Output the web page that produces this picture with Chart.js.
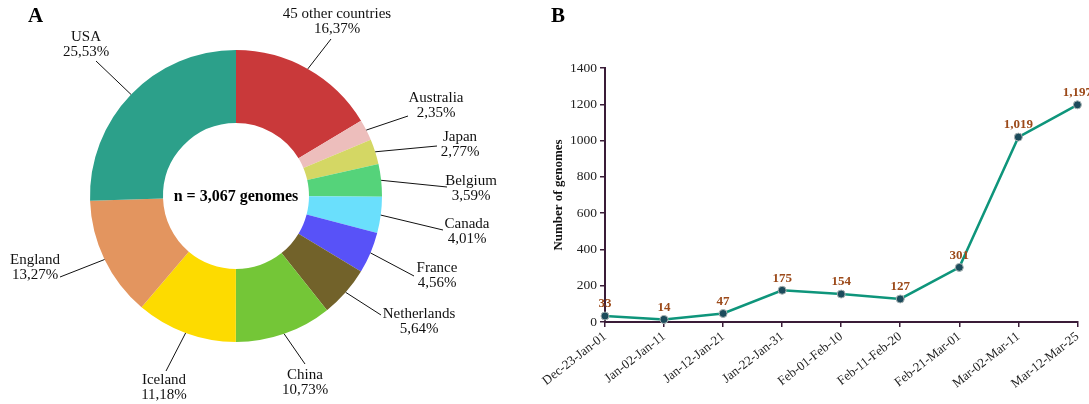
<!DOCTYPE html>
<html>
<head>
<meta charset="utf-8">
<script src="https://cdn.jsdelivr.net/npm/chart.js@4/dist/chart.umd.min.js"></script>
<style>
  body { margin: 0; background: #fff; font-family: "Liberation Serif", "Times New Roman", serif; }
  #wrap { position: relative; width: 1089px; height: 404px; overflow: hidden; }
  #boxA { position: absolute; left: 0; top: 0; width: 540px; height: 404px; }
  #boxB { position: absolute; left: 540px; top: 0; width: 549px; height: 404px; }
  .tag { position: absolute; font-weight: bold; font-size: 21px; line-height: 21px; color: #000; }
</style>
</head>
<body>
<div id="wrap">
  <div id="boxA"><canvas id="pie"></canvas></div>
  <div id="boxB"><canvas id="line"></canvas></div>
  <div class="tag" style="left:28px;top:5px">A</div>
  <div class="tag" style="left:551px;top:5px">B</div>
</div>
<script>
// panel A data
const countries = ['45 other countries', 'Australia', 'Japan', 'Belgium', 'Canada', 'France',
                   'Netherlands', 'China', 'Iceland', 'England', 'USA'];
const shares = [16.37, 2.35, 2.77, 3.59, 4.01, 4.56, 5.64, 10.73, 11.18, 13.27, 25.53];
const totalGenomes = '3,067';

// panel B data
const periods = ['Dec-23-Jan-01', 'Jan-02-Jan-11', 'Jan-12-Jan-21', 'Jan-22-Jan-31', 'Feb-01-Feb-10',
                 'Feb-11-Feb-20', 'Feb-21-Mar-01', 'Mar-02-Mar-11', 'Mar-12-Mar-25'];
const genomes = [33, 14, 47, 175, 154, 127, 301, 1019, 1197];
const yTicks = [0, 200, 400, 600, 800, 1000, 1200, 1400];

// styles
const sliceColors = ['#c9393a', '#edbebc', '#d4d764', '#55d37a', '#6adffc', '#5852f8',
                     '#72622a', '#74c637', '#fddb00', '#e3955f', '#2ca08a'];
// label placement relative to the doughnut centre: [text x, text y, line end x, line end y]
const labelSpots = [
  [101, -182, 95, -157], [200, -98, 172, -80], [224, -59, 201, -50], [235, -15, 211, -9],
  [231, 28, 207, 34], [201, 72, 178, 80], [183, 118, 145, 119], [69, 179, 69, 168],
  [-72, 184, -70, 175], [-201, 64, -176, 81], [-150, -159, -140, -135]
];
const serif = '"Liberation Serif", "Times New Roman", serif';
const axisColor = '#3a1c38';

Chart.defaults.font.family = serif;
Chart.defaults.color = '#222';

// leader lines + labels around the doughnut
const pieLabels = {
  id: 'pieLabels',
  afterDraw(chart) {
    const ctx = chart.ctx;
    const arcs = chart.getDatasetMeta(0).data;
    ctx.save();
    ctx.strokeStyle = '#111';
    ctx.lineWidth = 1;
    ctx.fillStyle = '#111';
    ctx.font = '15px ' + serif;
    ctx.textAlign = 'center';
    ctx.textBaseline = 'middle';
    arcs.forEach((arc, i) => {
      const p = arc.getProps(['x', 'y', 'startAngle', 'endAngle', 'outerRadius']);
      const mid = (p.startAngle + p.endAngle) / 2;
      const s = labelSpots[i];
      ctx.beginPath();
      ctx.moveTo(p.x + Math.cos(mid) * p.outerRadius, p.y + Math.sin(mid) * p.outerRadius);
      ctx.lineTo(p.x + s[2], p.y + s[3]);
      ctx.stroke();
      ctx.fillText(countries[i], p.x + s[0], p.y + s[1]);
      ctx.fillText(shares[i].toFixed(2).replace('.', ',') + '%', p.x + s[0], p.y + s[1] + 15);
    });
    const c = arcs[0];
    ctx.font = 'bold 16px ' + serif;
    ctx.fillStyle = '#000';
    ctx.fillText('n = ' + totalGenomes + ' genomes', c.x, c.y + 1);
    ctx.restore();
  }
};

new Chart(document.getElementById('pie'), {
  type: 'doughnut',
  data: {
    labels: countries,
    datasets: [{
      data: shares,
      backgroundColor: sliceColors,
      borderWidth: 0
    }]
  },
  options: {
    responsive: true,
    maintainAspectRatio: false,
    animation: false,
    cutout: '50%',
    layout: { padding: { top: 50, bottom: 62, left: 90, right: 158 } },
    plugins: { legend: { display: false }, tooltip: { enabled: false } }
  },
  plugins: [pieLabels]
});

// value labels above the points
const pointLabels = {
  id: 'pointLabels',
  afterDatasetsDraw(chart) {
    const ctx = chart.ctx;
    const pts = chart.getDatasetMeta(0).data;
    ctx.save();
    ctx.font = 'bold 13px ' + serif;
    ctx.fillStyle = '#9c4a1a';
    ctx.textAlign = 'center';
    ctx.textBaseline = 'middle';
    pts.forEach((pt, i) => {
      ctx.fillText(genomes[i].toLocaleString('en-US'), pt.x, pt.y - 12);
    });
    ctx.restore();
  }
};

new Chart(document.getElementById('line'), {
  type: 'line',
  data: {
    labels: periods,
    datasets: [{
      data: genomes,
      borderColor: '#0e957b',
      borderWidth: 2.5,
      pointRadius: 4,
      pointBackgroundColor: '#1c4b5b',
      pointBorderColor: '#a9b3b3',
      pointBorderWidth: 1,
      tension: 0,
      clip: false
    }]
  },
  options: {
    responsive: true,
    maintainAspectRatio: false,
    animation: false,
    layout: { padding: { top: 68, right: 5, left: 0, bottom: 0 } },
    plugins: { legend: { display: false }, tooltip: { enabled: false } },
    scales: {
      x: {
        offset: false,
        afterFit: s => { s.height = 82; },
        border: { display: true, color: axisColor, width: 2 },
        grid: { display: true, drawOnChartArea: false, drawTicks: true, tickLength: 5, color: axisColor, lineWidth: 1.5 },
        ticks: { font: { size: 13 }, color: '#222', minRotation: 38, maxRotation: 38, autoSkip: false, padding: 2 }
      },
      y: {
        min: 0,
        max: 1400,
        afterFit: s => { s.width = 65; },
        afterBuildTicks: s => { s.ticks = yTicks.map(v => ({ value: v })); },
        border: { display: true, color: axisColor, width: 2 },
        grid: { display: true, drawOnChartArea: false, drawTicks: true, tickLength: 5, color: axisColor, lineWidth: 1.5 },
        ticks: { font: { size: 13.5 }, color: '#222', padding: 3, callback: v => String(v) },
        title: {
          display: true,
          text: 'Number of genomes',
          font: { size: 13, weight: 'bold' },
          color: '#111',
          padding: { top: 11, bottom: 0 }
        }
      }
    }
  },
  plugins: [pointLabels]
});
</script>
</body>
</html>
